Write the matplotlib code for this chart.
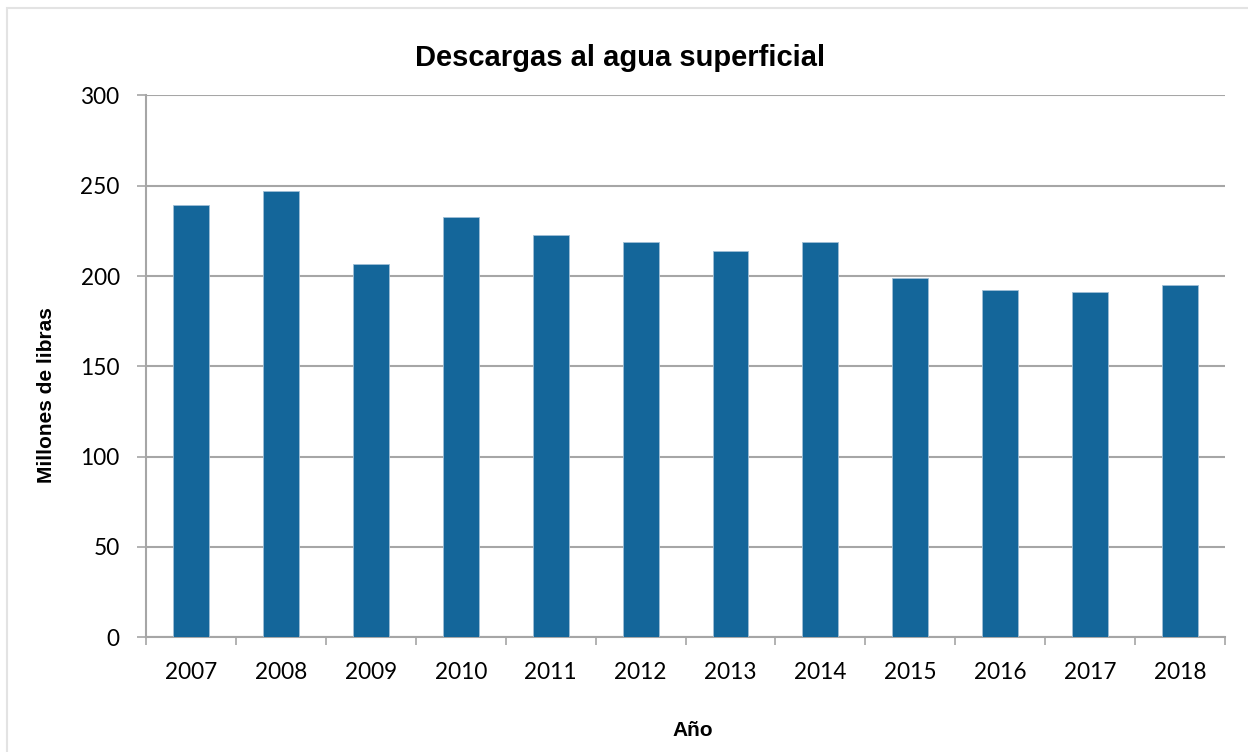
import matplotlib.pyplot as plt
from matplotlib.patches import Rectangle

years = ['2007', '2008', '2009', '2010', '2011', '2012',
         '2013', '2014', '2015', '2016', '2017', '2018']
values = [239.1, 247.1, 206.5, 232.7, 222.7, 218.6,
          213.8, 218.6, 198.9, 192.3, 191.0, 195.0]

fig = plt.figure(figsize=(12.48, 7.52), dpi=100)
ax = fig.add_axes([0.117, 0.1527, 0.8646, 0.7204])

# borde gris claro del área del gráfico
fig.patches.append(Rectangle((7 / 1248, -0.1), 1.2, 1 - 8 / 752 + 0.1,
                             transform=fig.transFigure, fill=False,
                             edgecolor='#e3e3e3', linewidth=1.5))

x = range(len(years))
ax.bar(x, values, width=0.4, color='#14669A', edgecolor='#9fbfd6',
       linewidth=0.6, zorder=3)

ax.set_xlim(-0.5, len(years) - 0.5)
ax.set_ylim(0, 300)
ax.set_yticks(range(0, 301, 50))
ax.grid(axis='y', color='#a6a6a6', linewidth=1.5, zorder=0)

ax.set_xticks(list(x))
ax.set_xticklabels(years)
ax.set_xticks([i - 0.5 for i in range(len(years) + 1)], minor=True)
ax.tick_params(axis='x', which='major', length=0, pad=18)
ax.tick_params(axis='x', which='minor', length=6, width=1.2, color='#a6a6a6')
ax.tick_params(axis='y', length=6.5, width=1.2, color='#a6a6a6', pad=12.5)

for lbl in ax.get_xticklabels() + ax.get_yticklabels():
    lbl.set_fontfamily('Lato')
    lbl.set_fontsize(16.3)

for s in ['top', 'right']:
    ax.spines[s].set_visible(False)
for s in ['left', 'bottom']:
    ax.spines[s].set_color('#a6a6a6')
    ax.spines[s].set_linewidth(1.5)

fig.text(620 / 1248, 1 - 58 / 752, 'Descargas al agua superficial',
         ha='center', va='center', fontsize=21, fontweight='bold',
         family='Liberation Sans')
fig.text(47 / 1248, 1 - 395 / 752, 'Millones de libras', rotation=90,
         ha='center', va='center', fontsize=15, fontweight='bold',
         family='Liberation Sans')
fig.text(693 / 1248, 1 - 731 / 752, 'Año', ha='center', va='center',
         fontsize=15, fontweight='bold', family='Liberation Sans')

fig.savefig('out.png', dpi=100)
